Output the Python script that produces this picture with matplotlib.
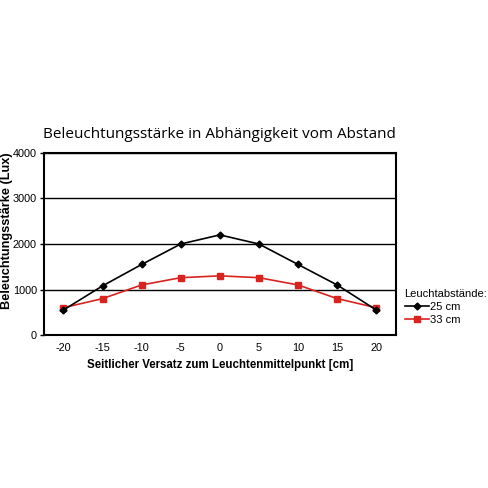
import matplotlib
matplotlib.use("Agg")
import matplotlib.pyplot as plt

# Data
offsets = ["-20", "-15", "-10", "-5", "0", "5", "10", "15", "20"]
lux_25cm = [550, 1080, 1550, 2000, 2200, 2000, 1550, 1100, 550]
lux_33cm = [600, 800, 1100, 1260, 1300, 1260, 1100, 800, 600]
series_labels = ["25 cm", "33 cm"]
y_ticks = [0, 1000, 2000, 3000, 4000]

plt.rcParams['font.family'] = ['Liberation Sans', 'DejaVu Sans']

fig = plt.figure(figsize=(4.88, 4.88), dpi=100)
ax = fig.add_axes([0.090, 0.3135, 0.721, 0.373])

x = range(len(offsets))
ax.plot(x, lux_25cm, color='black', marker='D', markersize=3.5, linewidth=1.2,
        label=series_labels[0], zorder=4)
ax.plot(x, lux_33cm, color='#d9231f', marker='s', markersize=4.8, linewidth=1.2,
        label=series_labels[1], zorder=3)

ax.set_xlim(-0.5, len(offsets) - 0.5)
ax.set_ylim(0, 4000)
ax.set_xticks(list(x))
ax.set_xticklabels(offsets)
ax.set_yticks(y_ticks)
ax.tick_params(axis='x', length=0, labelsize=7.8, pad=6)
ax.tick_params(axis='y', length=3, width=1.0, labelsize=7.8, pad=2)
ax.yaxis.grid(True, color='black', linewidth=1.0)
ax.set_axisbelow(True)
for s in ax.spines.values():
    s.set_linewidth(1.5)

ax.set_xlabel("Seitlicher Versatz zum Leuchtenmittelpunkt [cm]", fontsize=8.3,
              fontweight='bold', labelpad=4)
fig.text(0.0143, 0.527, "Beleuchtungsstärke (Lux)", rotation=90, fontsize=9.2,
         fontweight='bold', ha='center', va='center')
ax.set_title("Beleuchtungsstärke in Abhängigkeit vom Abstand", fontsize=11,
             family=['Open Sans', 'DejaVu Sans'], pad=11)

leg = ax.legend(title="Leuchtabstände:", loc='upper left', bbox_to_anchor=(1.025, 0.255),
                frameon=False, fontsize=8, title_fontsize=8, handlelength=2.2,
                handletextpad=0.1, borderaxespad=0, borderpad=0, labelspacing=0.3)
leg._legend_box.align = "left"

fig.savefig("out.png", dpi=100, facecolor='white')
